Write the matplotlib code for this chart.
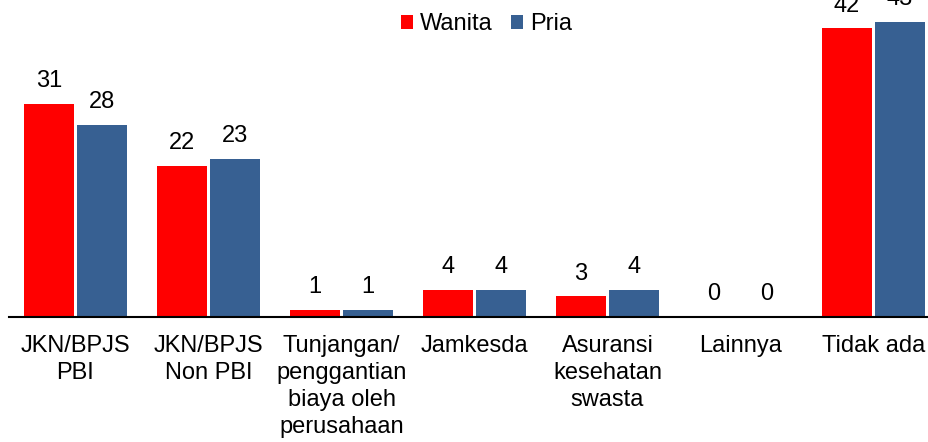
import numpy as np
import matplotlib
matplotlib.use("Agg")
import matplotlib.pyplot as plt

plt.rcParams['font.family'] = ['Liberation Sans', 'DejaVu Sans']

categories = ["JKN/BPJS\nPBI", "JKN/BPJS\nNon PBI", "Tunjangan/\npenggantian\nbiaya oleh\nperusahaan",
              "Jamkesda", "Asuransi\nkesehatan\nswasta", "Lainnya", "Tidak ada"]
wanita = [31, 22, 1, 4, 3, 0, 42]
pria = [28, 23, 1, 4, 4, 0, 43]

red = "#FF0000"
blue = "#376092"

fig = plt.figure(figsize=(9.29, 4.42), dpi=100)
ax = fig.add_axes([9 / 929, 125 / 442, 931 / 929, 316 / 442])

x = np.arange(len(categories))
w = 0.376
off = 0.199
b1 = ax.bar(x - off, wanita, w, color=red, label="Wanita")
b2 = ax.bar(x + off, pria, w, color=blue, label="Pria")

for bars, vals in ((b1, wanita), (b2, pria)):
    for b, v in zip(bars, vals):
        ax.annotate(str(v), (b.get_x() + b.get_width() / 2, v), xytext=(0, 8.5),
                    textcoords="offset points", ha="center", va="bottom",
                    fontsize=17, annotation_clip=False)

ax.set_xlim(-0.5, len(categories) - 0.5)
ax.set_ylim(0, 46)
ax.set_xticks(x)
ax.set_xticklabels(categories, fontsize=17, linespacing=1.3)
ax.tick_params(axis="x", length=0, pad=13)
ax.set_yticks([])
for s in ("top", "right", "left"):
    ax.spines[s].set_visible(False)
ax.spines["bottom"].set_linewidth(1.5)
ax.spines["bottom"].set_color("black")

fig.legend(loc="center", bbox_to_anchor=(0.5237, 0.945), ncol=2, frameon=False,
           fontsize=17, handlelength=0.5, handleheight=0.5, handletextpad=0.3,
           columnspacing=0.75, borderpad=0.1)

fig.savefig("out.png", dpi=100)
